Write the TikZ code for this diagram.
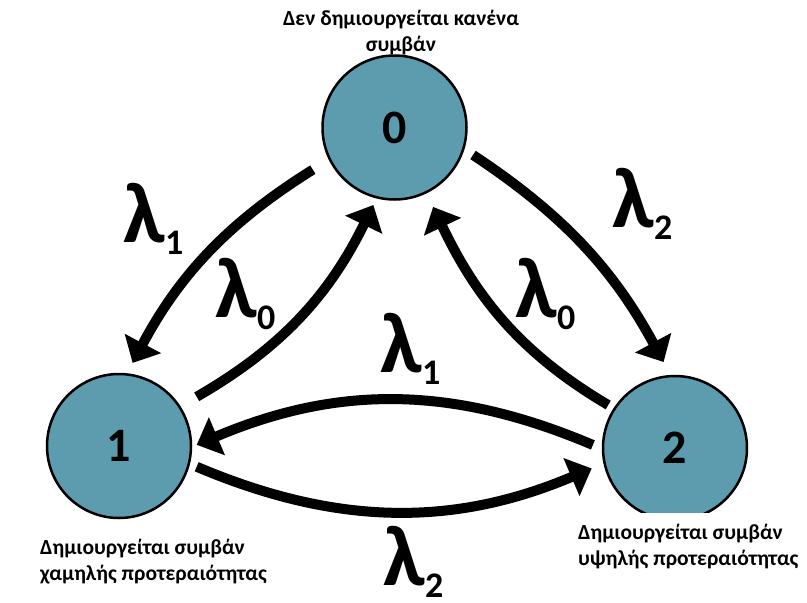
\documentclass[tikz,border=0pt]{standalone}
\usepackage{fontspec}
\setmainfont{Carlito}
\usetikzlibrary{arrows.meta}
\definecolor{statefill}{RGB}{93,155,175}
\tikzset{
  state/.style={circle, draw=black, line width=2.5pt, fill=statefill,
    minimum size=144pt, inner sep=0pt, outer sep=0pt,
    font=\fontsize{48}{48}\selectfont\bfseries},
  trans/.style={line width=10pt, -{Triangle[length=22pt,width=40pt]}},
  rate/.style={anchor=base west, inner sep=0pt,
    font=\fontsize{86}{86}\selectfont\bfseries},
  caption/.style={inner sep=0pt, align=left,
    font=\fontsize{21.5}{26}\selectfont\bfseries},
}
% subscript of a transition rate
\newcommand\ratesub[1]{{\fontsize{36}{36}\selectfont\raisebox{-12pt}{#1}}}

\begin{document}
\begin{tikzpicture}[x=1pt,y=1pt]
  \useasboundingbox[fill=white] (0,0) rectangle (807,-603);

  % states
  \node[state] (n0) at (394.5,-127.5) {0};
  \node[state] (n1) at (119,-446) {1};
  \node[state] (n2) at (675,-448) {2};

  % transitions
  \draw[trans, shorten <=20pt, shorten >=13pt]
    (n0.206) to[out=212, in=62] (n1.84);
  \draw[trans, shorten <=20pt, shorten >=8.5pt]
    (n1.33) to[out=30, in=244] (n0.256);
  \draw[trans, shorten <=11.6pt, shorten >=16pt]
    (n0.343) to[out=326.5, in=118.5] (n2.93);
  \draw[trans, shorten <=7.4pt, shorten >=16.3pt]
    (n2.147) to[out=149.5, in=295.5] (n0.296);
  \draw[trans, shorten <=11pt, shorten >=6.2pt]
    (n2.181) to[out=157, in=23] (n1.359);
  \draw[trans, shorten <=8.5pt, shorten >=14pt]
    (n1.346) to[out=337, in=203] (n2.192);

  % rates
  \node[rate] (r01) at (123,-242) {λ\ratesub{1}};
  \node[rate] (r10) at (215,-317) {λ\ratesub{0}};
  \node[rate] (r02) at (612,-227) {λ\ratesub{2}};
  \node[rate] (r20) at (515,-317) {λ\ratesub{0}};
  \node[rate] (r21) at (380,-372) {λ\ratesub{1}};
  \node[rate] (r12) at (383,-585) {λ\ratesub{2}};

  % state descriptions
  \node[caption, align=center, anchor=north] (c0) at (401,-10)
    {Δεν δημιουργείται κανένα\\συμβάν};
  \node[caption, anchor=north west] (c1) at (40,-539)
    {Δημιουργείται συμβάν\\χαμηλής προτεραιότητας};
  \node[caption, anchor=north west, fill=white, inner ysep=11pt] (c2) at (578,-513)
    {Δημιουργείται συμβάν\\υψηλής προτεραιότητας};
\end{tikzpicture}
\end{document}
